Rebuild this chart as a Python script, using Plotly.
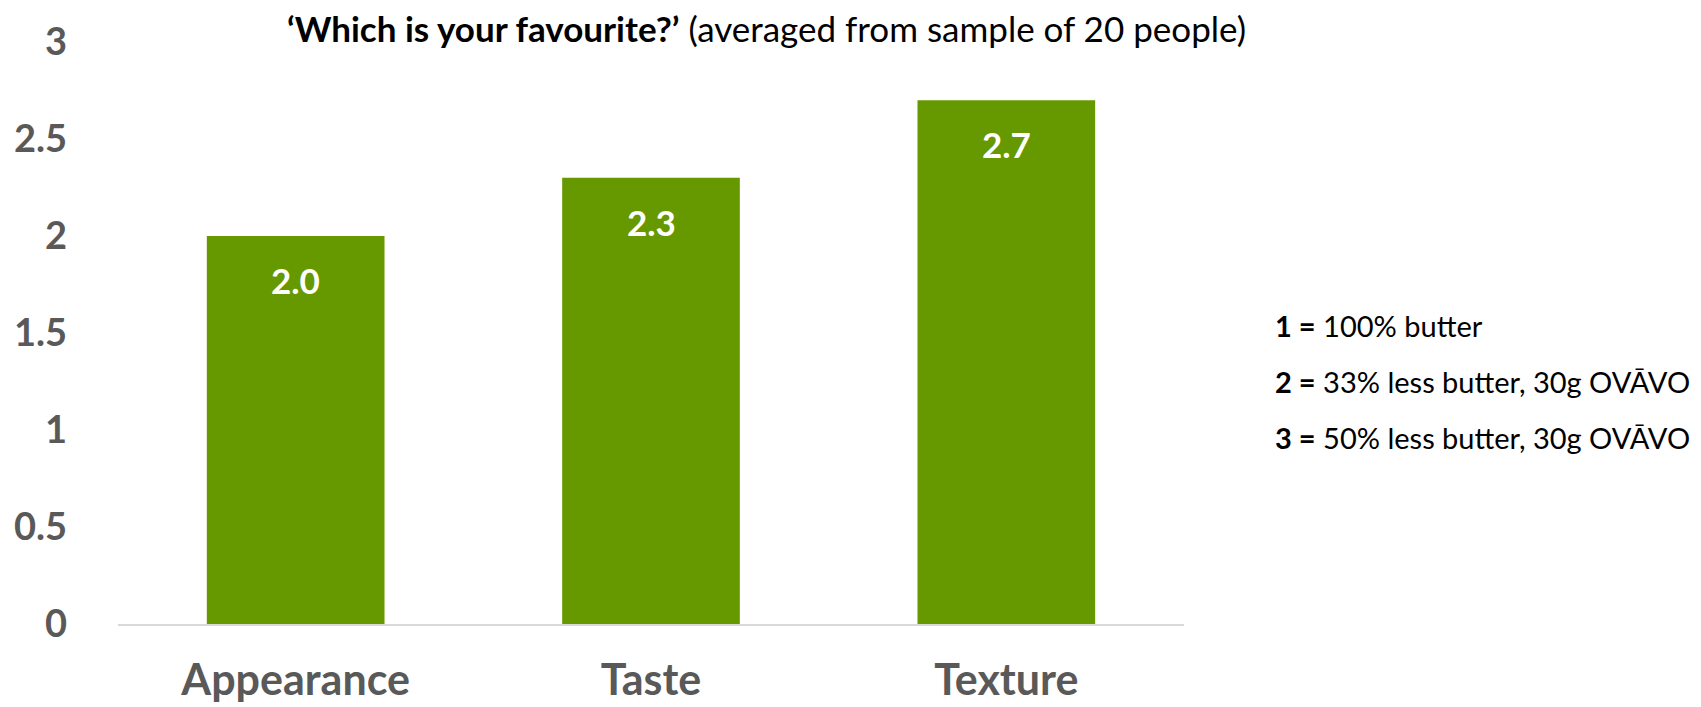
import plotly.graph_objects as go

categories = ["Appearance", "Taste", "Texture"]
values = [2.0, 2.3, 2.7]
key_lines = [
    ("1 =", "100% butter"),
    ("2 =", "33% less butter, 30g OVĀVO"),
    ("3 =", "50% less butter, 30g OVĀVO"),
]
y_ticks = [0, 0.5, 1, 1.5, 2, 2.5, 3]

FONT = "Lato"
GREEN = "#669900"
GREY = "#595959"

fig = go.Figure()
fig.add_trace(go.Bar(
    x=categories, y=values,
    marker=dict(color=GREEN, line=dict(width=0)),
    width=0.5,
    hoverinfo="skip",
))

for c, v in zip(categories, values):
    fig.add_annotation(
        x=c, y=v, xref="x", yref="y",
        text=f"<b>{v:.1f}</b>", showarrow=False,
        yanchor="middle", yshift=-44,
        font=dict(family=FONT, size=35, color="white"),
    )

fig.add_annotation(
    x=766 / 1701, y=1, xref="paper", yref="paper", yshift=-9,
    text="<b>‘Which is your favourite?’</b> (averaged from sample of 20 people)",
    showarrow=False, xanchor="center", yanchor="bottom",
    font=dict(family=FONT, size=35, color="black"),
)

key_y = [325, 381, 437]
for (b, t), yy in zip(key_lines, key_y):
    fig.add_annotation(
        x=1273 / 1701, y=1 - (yy - 42) / 582, xref="paper", yref="paper",
        text=f"<b>{b}</b> {t}", showarrow=False,
        xanchor="left", yanchor="middle",
        font=dict(family=FONT, size=29, color="black"),
    )

fig.update_layout(
    width=1701, height=707,
    margin=dict(l=0, r=0, t=42, b=83),
    paper_bgcolor="white", plot_bgcolor="white",
    showlegend=False,
    bargap=0.5,
    xaxis=dict(
        domain=[118 / 1701, 1184 / 1701],
        automargin=False,
        showline=True, linecolor="#d9d9d9", linewidth=2,
        ticks="", showgrid=False,
        tickfont=dict(family=FONT, size=43, color=GREY),
        ticklabelstandoff=17,
        tickprefix="<b>", ticksuffix="</b>",
    ),
    yaxis=dict(
        automargin=False,
        range=[0, 3], tickvals=y_ticks,
        ticktext=[f"<b>{t:g}</b>" for t in y_ticks],
        showgrid=False, zeroline=False, showline=False,
        tickfont=dict(family=FONT, size=38, color=GREY),
        ticklabelstandoff=50,
    ),
)

fig.write_html("out.html")
